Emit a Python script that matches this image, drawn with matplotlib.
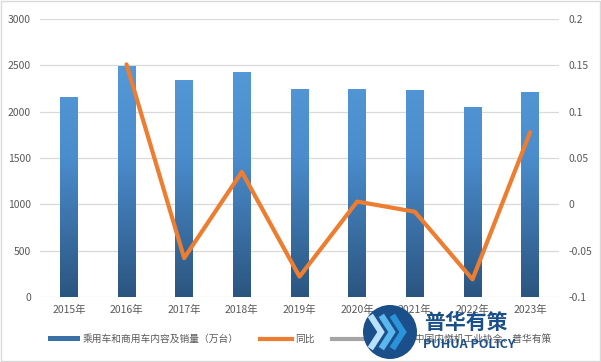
import numpy as np
import matplotlib
matplotlib.use("Agg")
import matplotlib.pyplot as plt
from matplotlib.colors import LinearSegmentedColormap
from matplotlib.lines import Line2D
from matplotlib.patches import Patch, Circle, Rectangle

plt.rcParams['font.family'] = ['Noto Sans CJK SC', 'DejaVu Sans']

years = ['2015年', '2016年', '2017年', '2018年', '2019年', '2020年', '2021年', '2022年', '2023年']
sales = [2158, 2495, 2342, 2428, 2245, 2245, 2234, 2050, 2212]
yoy = [np.nan, 0.151, -0.058, 0.035, -0.078, 0.003, -0.008, -0.081, 0.078]

bar_label = '乘用车和商用车内容及销量（万台）'
line_label = '同比'
src_label = '数据来源：中国内燃机工业协会、普华有策'

W, H = 601, 362


def fx(px):
    return px / W


def fy(py):
    return 1 - py / H


fig = plt.figure(figsize=(6.01, 3.62), dpi=100)
ax = fig.add_axes([fx(40), fy(297), 519 / W, 278 / H])
ax2 = ax.twinx()

x = np.arange(len(years))
bars = ax.bar(x, sales, width=0.31, color='none', edgecolor='none', zorder=2)

# vertical gradient in each bar
cmap = LinearSegmentedColormap.from_list('g', ['#2b5580', '#4a8ccc', '#5b9fde'])
grad = np.linspace(0, 1, 256).reshape(-1, 1)
for b in bars:
    bx, w = b.get_x(), b.get_width()
    im = ax.imshow(grad, cmap=cmap, aspect='auto', origin='lower',
                   extent=[bx, bx + w, 0, 3000], zorder=2)
    im.set_clip_path(b)

ax.set_xlim(-0.5, len(years) - 0.5)
ax.set_ylim(0, 3000)
ax.set_yticks(range(0, 3001, 500))
ax.yaxis.grid(True, color='#d9d9d9', linewidth=0.9, zorder=0)
ax.set_axisbelow(True)
ax.set_xticks(x)
ax.set_xticklabels(years)

ax2.plot(x, yoy, color='#ed7d31', linewidth=3, solid_capstyle='round', zorder=3)
ax2.set_ylim(-0.1, 0.2)
ax2.set_yticks([-0.1, -0.05, 0, 0.05, 0.1, 0.15, 0.2])
ax2.set_yticklabels(['-0.1', '-0.05', '0', '0.05', '0.1', '0.15', '0.2'])

for a in (ax, ax2):
    for s in a.spines.values():
        s.set_visible(False)
    a.tick_params(length=0, labelsize=7.5, labelcolor='#595959')
ax.tick_params(axis='x', pad=6)
ax.tick_params(axis='y', pad=6.5)
ax2.tick_params(axis='y', pad=7)

# legend, one entry at a time so the spacing follows the reference
entries = [(Patch(facecolor='#3a70a8', edgecolor='none'), bar_label, 48),
           (Line2D([], [], color='#ed7d31', linewidth=3), line_label, 260),
           (Line2D([], [], color='#a5a5a5', linewidth=3), src_label, 332)]
for h, lab, x0 in entries:
    fig.legend([h], [lab], loc='center left', bbox_to_anchor=(fx(x0), fy(339)),
               frameon=False, fontsize=7, labelcolor='#595959', borderpad=0,
               borderaxespad=0, handlelength=3.3, handleheight=0.4,
               handletextpad=0.3)

# outer frame
fig.patches.append(Rectangle((0.002, 0.003), 0.996, 0.994, transform=fig.transFigure,
                             fill=False, edgecolor='#d9d9d9', linewidth=1))

# watermark logo
logo = Circle((fx(390), fy(332)), 27, facecolor='#1b4f8a', edgecolor='none', zorder=8)
logo.set_transform(matplotlib.transforms.Affine2D().translate(390, H - 332) + fig.dpi_scale_trans.inverted() + fig.dpi_scale_trans)
logo.center = (0, 0)
fig.patches.append(logo)
for i, c in enumerate(['#b9e2fa', '#5ab8ee', '#2b93da']):
    x0 = 372 + i * 11
    fig.lines.append(Line2D([fx(x0), fx(x0 + 9), fx(x0)], [fy(318), fy(332), fy(346)],
                            transform=fig.transFigure, color=c, linewidth=4.5,
                            solid_joinstyle='miter', zorder=9))
fig.text(fx(424), fy(322), '普华有策', color='#1b4f8a', fontsize=15,
         fontweight='bold', ha='left', va='center', zorder=9)
fig.text(fx(423), fy(345), 'PUHUA POLICY', color='#1b4f8a', fontsize=9,
         fontweight='bold', ha='left', va='center', zorder=9)

fig.savefig('out.png', dpi=100)
